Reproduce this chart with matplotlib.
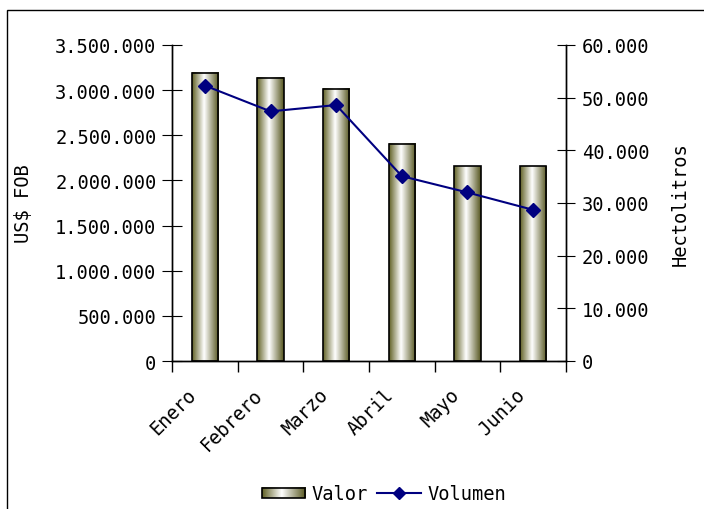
import numpy as np
import matplotlib
matplotlib.use("Agg")
import matplotlib.pyplot as plt
from matplotlib.ticker import FuncFormatter, MultipleLocator
from matplotlib.legend_handler import HandlerBase
from matplotlib.image import BboxImage
from matplotlib.transforms import Bbox, TransformedBbox
from matplotlib.colors import LinearSegmentedColormap
from matplotlib.patches import Rectangle
from matplotlib.lines import Line2D

months = ["Enero", "Febrero", "Marzo", "Abril", "Mayo", "Junio"]
valor = [3195000, 3140000, 3015000, 2405000, 2158000, 2158000]
volumen = [52300, 47400, 48600, 35100, 32000, 28700]

plt.rcParams['font.family'] = ['DejaVu Sans Mono']
FS = 13.5

cmap = LinearSegmentedColormap.from_list(
    "olive", [(0.0, "#606024"), (0.45, "#ffffff"), (1.0, "#55551e")])
grad = np.linspace(0, 1, 256).reshape(1, -1)

fig = plt.figure(figsize=(7.04, 5.10), dpi=100)
ax = fig.add_axes([172/704, 1-362/510, (566-172)/704, (362-46)/510])
ax2 = ax.twinx()

x = np.arange(len(months))
bw = 0.4
ax.bar(x, valor, width=bw, facecolor="none", edgecolor="black", linewidth=1.2, zorder=3)
for xi, v in zip(x, valor):
    ax.imshow(grad, cmap=cmap, extent=(xi-bw/2, xi+bw/2, 0, v), aspect='auto', zorder=2,
              interpolation='bilinear')

ax.set_xlim(-0.5, len(months)-0.5)
ax.set_ylim(0, 3500000)
ax.yaxis.set_major_locator(MultipleLocator(500000))
fmt = FuncFormatter(lambda v, p: f"{v:,.0f}".replace(",", "."))
ax.yaxis.set_major_formatter(fmt)
# labels are anchored slightly left of the category centre (as in the source chart)
label_shift = 18 / ((566 - 172) / len(months))
ax.set_xticks(x - label_shift)
ax.set_xticklabels(months, rotation=45, ha="right", rotation_mode="anchor", fontsize=FS)
ax.set_xticks(np.arange(-0.5, len(months)), minor=True)
ax.tick_params(axis='x', which='major', length=0, pad=17)
ax.tick_params(axis='x', which='minor', length=8, direction='out', width=1)
ax.tick_params(axis='y', direction='inout', length=14, labelsize=FS, pad=4.2)
ax.set_ylabel("US$ FOB", fontsize=FS)
ax.yaxis.set_label_coords(-0.353, 0.5)

ax2.plot(x, volumen, color="#000080", marker="D", markersize=7, linewidth=1.5, zorder=5)
ax2.set_ylim(0, 60000)
ax2.yaxis.set_major_locator(MultipleLocator(10000))
ax2.yaxis.set_major_formatter(fmt)
ax2.tick_params(axis='y', direction='inout', length=13, labelsize=FS, pad=5)
ax2.set_ylabel("Hectolitros", fontsize=FS)
ax2.yaxis.set_label_coords(1.266, 0.5)

for a in (ax, ax2):
    a.spines['top'].set_visible(False)
    for s in ('left', 'right', 'bottom'):
        a.spines[s].set_linewidth(1)

class HandlerGradient(HandlerBase):
    def create_artists(self, legend, orig_handle, xdescent, ydescent, width, height, fontsize, trans):
        bb = Bbox.from_bounds(-xdescent, -ydescent + height*0.1, width, height*0.8)
        tbb = TransformedBbox(bb, trans)
        img = BboxImage(tbb, cmap=cmap, interpolation='bilinear')
        img.set_data(grad)
        rect = Rectangle((-xdescent, -ydescent + height*0.1), width, height*0.8,
                         facecolor='none', edgecolor='black', linewidth=1.2, transform=trans)
        return [img, rect]

bar_handle = Rectangle((0, 0), 1, 1)
line_handle = Line2D([], [], color="#000080", marker="D", markersize=6, linewidth=1.5)
fig.legend([bar_handle, line_handle], ["Valor", "Volumen"],
           handler_map={Rectangle: HandlerGradient()},
           loc="center", bbox_to_anchor=(384/704, 1-495/510), ncol=2, frameon=False,
           fontsize=FS, handlelength=2.3, handletextpad=0.35, columnspacing=0.5,
           borderpad=0, borderaxespad=0)

fig.patches.append(Rectangle((7/704, -0.05), 2, 1.05 - 11/510, transform=fig.transFigure,
                             fill=False, edgecolor="black", linewidth=1))

fig.savefig("out.png", dpi=100)
